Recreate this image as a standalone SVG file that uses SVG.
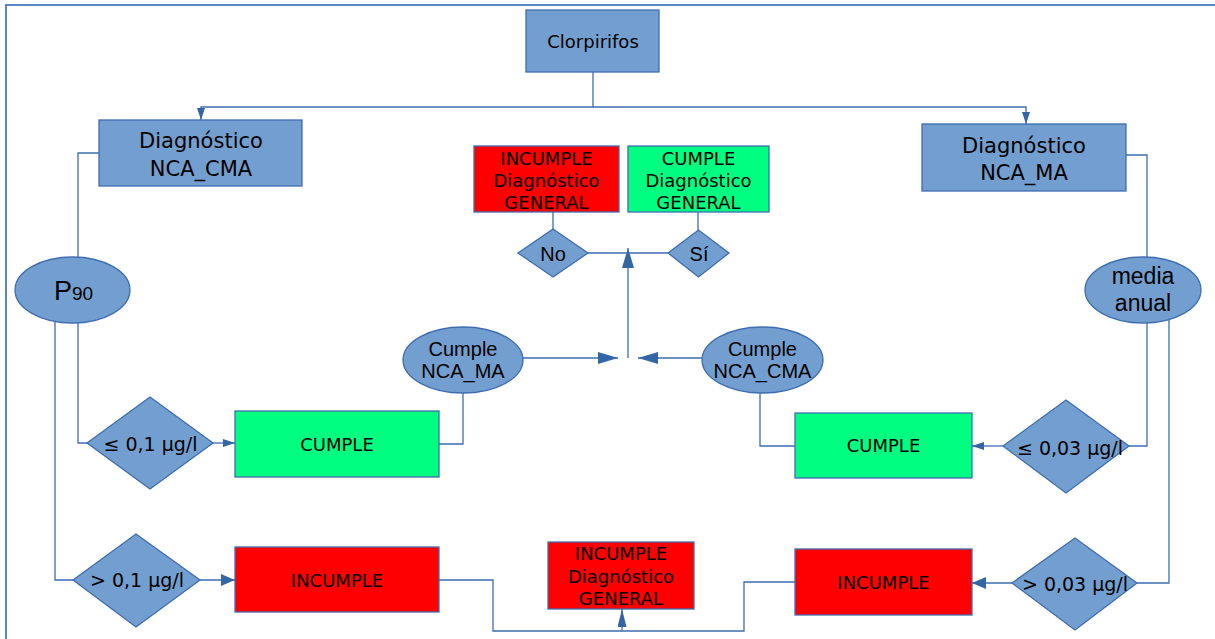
<svg xmlns="http://www.w3.org/2000/svg" width="1215" height="639" viewBox="0 0 1215 639">
<style>
.frame{fill:none;stroke:#5a85c6;stroke-width:2}
.c{fill:none;stroke:#3e6db0;stroke-width:1.3}
.blue{fill:#729fcf;stroke:#3e6db0;stroke-width:1.3}
.green{fill:#00ff80;stroke:#3e6db0;stroke-width:1.3}
.red{fill:#ff0000;stroke:#3e6db0;stroke-width:1.3}
.t{font-family:"DejaVu Sans",Verdana,sans-serif;font-size:18px;text-anchor:middle;fill:#000}
.tb{font-family:"DejaVu Sans",Verdana,sans-serif;font-size:21px;text-anchor:middle;fill:#000}
.te{font-family:"Liberation Sans",Arial,sans-serif;font-size:20px;text-anchor:middle;fill:#000}
.ah{fill:#3465a4}
</style>
<defs>
<marker id="ms" markerUnits="userSpaceOnUse" markerWidth="12" markerHeight="8" refX="12" refY="4" orient="auto"><path class="ah" d="M0,0 L12,4 L0,8 Z"/></marker>
<marker id="mm" markerUnits="userSpaceOnUse" markerWidth="14" markerHeight="12" refX="14" refY="6" orient="auto"><path class="ah" d="M0,0 L14,6 L0,12 Z"/></marker>
<marker id="ml" markerUnits="userSpaceOnUse" markerWidth="20" markerHeight="12" refX="20" refY="6" orient="auto"><path class="ah" d="M0,0 L20,6 L0,12 Z"/></marker>
<marker id="mu" markerUnits="userSpaceOnUse" markerWidth="18" markerHeight="9" refX="18" refY="4.5" orient="auto"><path class="ah" d="M0,0 L18,4.5 L0,9 Z"/></marker>
</defs>
<rect width="1215" height="639" fill="#fff"/>
<path class="frame" d="M6,639 V5 H1215"/>

<g id="connectors">
<path class="c" d="M593,72 V107 H201 V120" marker-end="url(#ms)"/>
<path class="c" d="M593,107 H1026 V124" marker-end="url(#ms)"/>
<path class="c" d="M99,153 H78 V257"/>
<path class="c" d="M78,323 V443 H87"/>
<path class="c" d="M55,321 V580 H73"/>
<path class="c" d="M213,443 H235" marker-end="url(#ms)"/>
<path class="c" d="M200,580 H235" marker-end="url(#mm)"/>
<path class="c" d="M439,444 H463 V393"/>
<path class="c" d="M523,358 H618" marker-end="url(#ml)"/>
<path class="c" d="M702,358 H638" marker-end="url(#ml)"/>
<path class="c" d="M628,358 V248" marker-end="url(#ml)"/>
<path class="c" d="M588,253 H668"/>
<path class="c" d="M553,212 V229"/>
<path class="c" d="M698,212 V230"/>
<path class="c" d="M439,580 H493 V631 H744 V582 H795"/>
<path class="c" d="M622,631 V609" marker-end="url(#mu)"/>
<path class="c" d="M1126,155 H1147 V257"/>
<path class="c" d="M1147,322 V446 H1129"/>
<path class="c" d="M1169,320 V583 H1137"/>
<path class="c" d="M1003,446 H972" marker-end="url(#ms)"/>
<path class="c" d="M1012,583 H972" marker-end="url(#mm)"/>
<path class="c" d="M795,446 H760 V393"/>
</g>

<g id="clorpirifos"><rect class="blue" x="526" y="10" width="133" height="62"/><text class="t" x="593" y="48">Clorpirifos</text></g>

<g id="diag-nca-cma"><rect class="blue" x="99" y="120" width="203" height="66"/><text class="tb" x="201" y="148">Diagnóstico</text><text class="tb" x="201" y="176">NCA_CMA</text></g>

<g id="diag-nca-ma"><rect class="blue" x="922" y="124" width="204" height="67"/><text class="tb" x="1024" y="153">Diagnóstico</text><text class="tb" x="1024" y="180">NCA_MA</text></g>

<g id="p90"><ellipse class="blue" cx="72.5" cy="290" rx="57.5" ry="33"/><text x="54" y="300" font-family="Liberation Sans, Arial, sans-serif" fill="#000"><tspan font-size="27">P</tspan><tspan font-size="19">90</tspan></text></g>

<g id="media-anual"><ellipse class="blue" cx="1143" cy="290" rx="58" ry="33"/><text class="te" x="1143" y="284" style="font-size:23px">media</text><text class="te" x="1143" y="311" style="font-size:23px">anual</text></g>

<g id="le-01"><polygon class="blue" points="87,443 150,397 213,443 150,489"/><text class="t" x="150.5" y="451" style="font-size:19px">≤ 0,1 µg/l</text></g>

<g id="gt-01"><polygon class="blue" points="73,580 136,534 200,580 136,627"/><text class="t" x="137" y="587" style="font-size:19px">&gt; 0,1 µg/l</text></g>

<g id="le-003"><polygon class="blue" points="1003,446 1066,400 1129,446 1066,493"/><text class="t" x="1070" y="455" style="font-size:19px">≤ 0,03 µg/l</text></g>

<g id="gt-003"><polygon class="blue" points="1012,583 1075,538 1137,583 1075,630"/><text class="t" x="1075" y="591" style="font-size:19px">&gt; 0,03 µg/l</text></g>

<g id="cumple-left"><rect class="green" x="235" y="411" width="204" height="66"/><text class="t" x="337" y="451">CUMPLE</text></g>

<g id="incumple-left"><rect class="red" x="235" y="547" width="204" height="65"/><text class="t" x="337" y="587">INCUMPLE</text></g>

<g id="cumple-right"><rect class="green" x="795" y="413" width="177" height="65"/><text class="t" x="883.5" y="452">CUMPLE</text></g>

<g id="incumple-right"><rect class="red" x="795" y="549" width="177" height="66"/><text class="t" x="883.5" y="589">INCUMPLE</text></g>

<g id="cumple-nca-ma"><ellipse class="blue" cx="463" cy="360" rx="60" ry="33"/><text class="te" x="463" y="356">Cumple</text><text class="te" x="463" y="378">NCA_MA</text></g>

<g id="cumple-nca-cma"><ellipse class="blue" cx="762.5" cy="360" rx="60.5" ry="33"/><text class="te" x="762.5" y="356">Cumple</text><text class="te" x="762.5" y="378">NCA_CMA</text></g>

<g id="incumple-general-top"><rect class="red" x="474" y="146" width="145" height="66"/><text class="t" x="546.5" y="165">INCUMPLE</text><text class="t" x="546.5" y="187">Diagnóstico</text><text class="t" x="546.5" y="209">GENERAL</text></g>

<g id="cumple-general"><rect class="green" x="628" y="146" width="141" height="66"/><text class="t" x="698.5" y="165">CUMPLE</text><text class="t" x="698.5" y="187">Diagnóstico</text><text class="t" x="698.5" y="209">GENERAL</text></g>

<g id="no"><polygon class="blue" points="518,253 553,229 588,253 553,277"/><text class="te" x="553" y="261">No</text></g>

<g id="si"><polygon class="blue" points="668,253 698.5,230 729,253 698.5,277"/><text class="te" x="699" y="261">Sí</text></g>

<g id="incumple-general-bottom"><rect class="red" x="548" y="542" width="146" height="67"/><text class="t" x="621" y="560">INCUMPLE</text><text class="t" x="621" y="583">Diagnóstico</text><text class="t" x="621" y="605">GENERAL</text></g>
</svg>
